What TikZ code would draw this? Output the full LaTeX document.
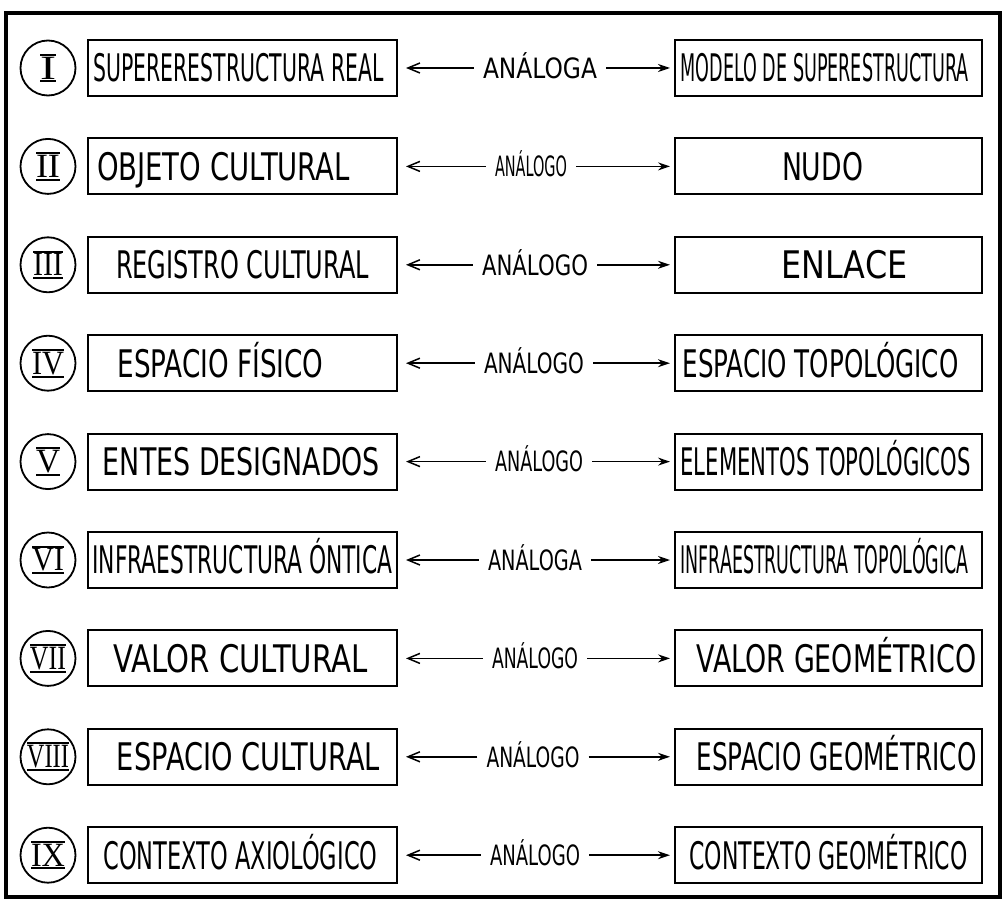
\documentclass[tikz,border=0pt]{standalone}
\usepackage{fontspec}
\setmainfont{DejaVu Sans}
\newfontfamily\romana{Liberation Serif}
\usetikzlibrary{arrows.meta}

% texto comprimido a un ancho dado (en pt), misma altura
\newcommand\ajusta[2]{\resizebox{#1pt}{\height}{#2}}
% numeral romano con barra arriba y abajo
\newcommand\romano[1]{\setbox0\hbox{#1}\vbox{\hrule width\wd0 height 2pt\kern1pt\copy0\kern1pt\hrule width\wd0 height 2pt}}

\begin{document}
\begin{tikzpicture}[
        x=1pt, y=-1pt,
        marco/.style={line width=3.4pt},
        caja/.style={draw, line width=2pt, minimum height=56pt, inner sep=0pt,
                     font=\fontsize{38}{40}\selectfont, text height=27.7pt, text depth=0pt},
        cajaizq/.style={caja, minimum width=309pt},
        cajader/.style={caja, minimum width=307pt},
        circulo/.style={draw, circle, line width=1.8pt, minimum size=55pt, inner sep=0pt,
                        font=\romana\fontsize{34}{36}\selectfont},
        medio/.style={font=\fontsize{28}{30}\selectfont, text height=20.4pt, text depth=0pt,
                      inner xsep=9pt},
        flechaizq/.style={line width=1.5pt, -{Straight Barb[length=12pt, width=10pt]}, shorten >=8pt},
        flechader/.style={line width=1.5pt, -{Stealth[length=12pt, width=8pt]}, shorten >=4pt}]

    \useasboundingbox (0,0) rectangle (1008,909);

    % --- Marco exterior
    \draw[marco] (6,13) rectangle (1000,897);

    % --- Números romanos
    \foreach \f/\w/\rom [evaluate=\f as \y using 68+98.4*(\f-1)] in
        {1/16/I, 2/24/II, 3/30/III, 4/32/IV, 5/24/V, 6/32/VI, 7/36/VII, 8/42/VIII, 9/34/IX}
        \node[circulo] (c\f) at (48,\y) {\ajusta{\w}{\romano{\rom}}};

    % --- Columna izquierda
    \foreach \f/\k/\w/\txt [evaluate=\f as \y using 68+98.4*(\f-1)] in
        {1/-8/290/SUPERERESTRUCTURA REAL, 2/-38/253/OBJETO CULTURAL,
         3/0/253/REGISTRO CULTURAL, 4/-44/206/ESPACIO FÍSICO,
         5/-2/277/ENTES DESIGNADOS, 6/0/300/INFRAESTRUCTURA ÓNTICA,
         7/-4/254/VALOR CULTURAL, 8/12/263/ESPACIO CULTURAL,
         9/-4/274/CONTEXTO AXIOLÓGICO}
        \node[cajaizq] (izq\f) at (242.5,\y) {\hspace*{\k pt}\ajusta{\w}{\txt}};

    % --- Columna derecha
    \foreach \f/\k/\w/\txt [evaluate=\f as \y using 68+98.4*(\f-1)] in
        {1/-8/288/MODELO DE SUPERESTRUCTURA, 2/-12/81/NUDO,
         3/32/126/ENLACE, 4/-16/276/ESPACIO TOPOLÓGICO,
         5/-6/290/ELEMENTOS TOPOLÓGICOS, 6/-8/288/INFRAESTRUCTURA TOPOLÓGICA,
         7/16/280/VALOR GEOMÉTRICO, 8/16/280/ESPACIO GEOMÉTRICO,
         9/0/278/CONTEXTO GEOMÉTRICO}
        \node[cajader] (der\f) at (828.5,\y) {\hspace*{\k pt}\ajusta{\w}{\txt}};

    % --- Relación de analogía
    \foreach \f/\x/\w/\txt [evaluate=\f as \y using 68+98.4*(\f-1)] in
        {1/540/114/ANÁLOGA, 2/531/72/ANÁLOGO, 3/535/106/ANÁLOGO,
         4/534/100/ANÁLOGO, 5/539/88/ANÁLOGO, 6/535/94/ANÁLOGA,
         7/535/86/ANÁLOGO, 8/533/93/ANÁLOGO, 9/535/90/ANÁLOGO} {
        \node[medio] (m\f) at (\x,\y) {\ajusta{\w}{\txt}};
        \draw[flechaizq] (m\f) -- (izq\f);
        \draw[flechader] (m\f) -- (der\f);
    }

\end{tikzpicture}
\end{document}
